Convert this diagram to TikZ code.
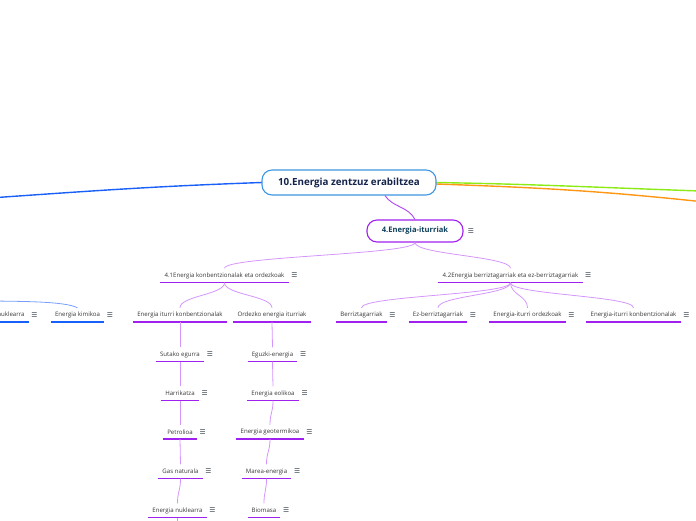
\documentclass[tikz,border=0pt]{standalone}
\usepackage{fontspec}
\setmainfont{Open Sans}
\newfontfamily\symfont{DejaVu Sans}
\usetikzlibrary{positioning}
\definecolor{mmpurple}{RGB}{160,32,240}
\definecolor{mmlink}{RGB}{212,150,252}
\definecolor{mmlinkdark}{RGB}{175,70,240}
\definecolor{mmblue}{RGB}{25,95,250}
\definecolor{mmsky}{RGB}{60,150,225}
\definecolor{mmgreen}{RGB}{140,235,20}
\definecolor{mmorange}{RGB}{255,150,20}
\definecolor{mmtext}{RGB}{55,55,55}
\definecolor{mmnavy}{RGB}{20,35,75}
\definecolor{mmicon}{RGB}{60,70,80}
\tikzset{
  mmroot/.style={rectangle, rounded corners=10pt, draw=mmsky, line width=1.1pt, fill=white,
                 minimum width=174pt, minimum height=25pt, inner sep=0pt,
                 font=\fontsize{9.8}{11}\selectfont\bfseries, text=mmnavy},
  mmmain/.style={rectangle, rounded corners=10pt, draw=mmpurple, line width=1.1pt, fill=white,
                 minimum width=96pt, minimum height=22pt, inner sep=0pt,
                 font=\fontsize{7.6}{9}\selectfont\bfseries, text=mmnavy!70!teal},
  mmtopic/.style={inner xsep=4pt, inner ysep=0pt, minimum height=14pt,
                  font=\fontsize{6.1}{7}\selectfont, text=mmtext,
                  append after command={(\tikzlastnode.south west) edge[line width=1.5pt, #1]
                                        (\tikzlastnode.south east)}},
  mmtopic/.default=mmpurple,
  mmmenu/.style={label={[font=\symfont\fontsize{6.8}{7}\selectfont, text=mmicon,
                 inner sep=0pt, label distance=#1]right:☰}},
  mmmenu/.default=2.5pt,
  mmbranch/.style={line width=1.4pt, line cap=round},
  mmsub/.style={mmlink, line width=0.8pt},
  mmdown/.style={out=-90, in=90, distance=12pt},
}
\begin{document}
\begin{tikzpicture}[x=1pt, y=1pt]
  \useasboundingbox (0,0) rectangle (696,-520);
  \clip (0,0) rectangle (696,-520);
  \coordinate (bl) at (-3,-197.5);
  \coordinate (gr) at (700,-191);
  \coordinate (or) at (700,-201.5);
  \coordinate (bk) at (-3,-301);
  \coordinate (nukbelow) at (177.5,-530);
  \draw[mmbranch, mmblue]   (349,-182.5) ++(-87,0) coordinate (rootw) to[out=182, in=4] (bl);
  \draw[mmbranch, mmgreen]  (436,-182.5) coordinate (roote) to[out=-1, in=178] (gr);
  \draw[mmbranch, mmorange] (436,-184) coordinate (rooteo) to[out=-2, in=174] (or);
  \node[mmroot] (root) at (349,-182.5) {10.Energia zentzuz erabiltzea};
  \node[mmmain, mmmenu=4pt] (iturriak) at (415,-231) {4.Energia-iturriak};
  \draw[mmlinkdark, line width=0.9pt] (root.-20) to[out=-55, in=118] (iturriak.north);
  \node[mmtopic, mmmenu] (konb)  at (224.5,-275.5) {4.1Energia konbentzionalak eta ordezkoak};
  \node[mmtopic, mmmenu] (berri) at (510.5,-275.5) {4.2Energia berriztagarriak eta ez-berriztagarriak};
  \draw[mmsub] (iturriak.south) to[mmdown] (konb.north);
  \draw[mmsub] (iturriak.south) to[mmdown] (berri.north);
  \node[mmtopic] (ikonb) at (180,-315) {Energia iturri konbentzionalak};
  \node[mmtopic] (ordez) at (272,-315) {Ordezko energia iturriak};
  \draw[mmsub] (konb.south) to[mmdown] (ikonb.north);
  \draw[mmsub] (konb.south) to[mmdown] (ordez.north);
  \node[mmtopic, mmmenu] (berriz)   at (361.5,-315) {Berriztagarriak};
  \node[mmtopic, mmmenu] (ezberriz) at (438,-315)   {Ez-berriztagarriak};
  \node[mmtopic, mmmenu] (itord)    at (527.5,-315) {Energia-iturri ordezkoak};
  \node[mmtopic, mmmenu] (itkonb)   at (633.5,-315) {Energia-iturri konbentzionalak};
  \draw[mmsub] (berri.south) to[mmdown] (berriz.north);
  \draw[mmsub] (berri.south) to[mmdown] (ezberriz.north);
  \draw[mmsub] (berri.south) to[mmdown] (itord.north);
  \draw[mmsub] (berri.south) to[mmdown] (itkonb.north);
  \node[mmtopic=mmblue, mmmenu] (nuklL)  at (-0.5,-315) {Energia nuklearra};
  \node[mmtopic=mmblue, mmmenu] (kimiko) at (77.5,-315) {Energia kimikoa};
  \draw[mmblue!60, line width=0.8pt] (bk) to[out=-2, in=150, distance=14pt] (kimiko.north);
  \node[mmtopic, mmmenu] (sutako) at (180,-354.5)   {Sutako egurra};
  \node[mmtopic, mmmenu] (harri)  at (180,-393.5)   {Harrikatza};
  \node[mmtopic, mmmenu] (petro)  at (180,-432)     {Petrolioa};
  \node[mmtopic, mmmenu] (gas)    at (180.5,-471.5) {Gas naturala};
  \node[mmtopic, mmmenu] (nukl)   at (177.5,-510.5) {Energia nuklearra};
  \draw[mmsub] (ikonb.south)  to[mmdown] (sutako.north);
  \draw[mmsub] (sutako.south) to[mmdown] (harri.north);
  \draw[mmsub] (harri.south)  to[mmdown] (petro.north);
  \draw[mmsub] (petro.south)  to[mmdown] (gas.north);
  \draw[mmsub] (gas.south)    to[mmdown] (nukl.north);
  \draw[mmsub] (nukl.south) -- (nukbelow);
  \node[mmtopic, mmmenu] (eguzki)  at (272.5,-354.5) {Eguzki-energia};
  \node[mmtopic, mmmenu] (eoliko)  at (273,-393.5)   {Energia eolikoa};
  \node[mmtopic, mmmenu] (geoterm) at (270,-432)     {Energia geotermikoa};
  \node[mmtopic, mmmenu] (marea)   at (266.5,-471.5) {Marea-energia};
  \node[mmtopic, mmmenu] (biomasa) at (264,-510.5)   {Biomasa};
  \draw[mmsub] (ordez.south)   to[mmdown] (eguzki.north);
  \draw[mmsub] (eguzki.south)  to[mmdown] (eoliko.north);
  \draw[mmsub] (eoliko.south)  to[mmdown] (geoterm.north);
  \draw[mmsub] (geoterm.south) to[mmdown] (marea.north);
  \draw[mmsub] (marea.south)   to[mmdown] (biomasa.north);
\end{tikzpicture}
\end{document}
